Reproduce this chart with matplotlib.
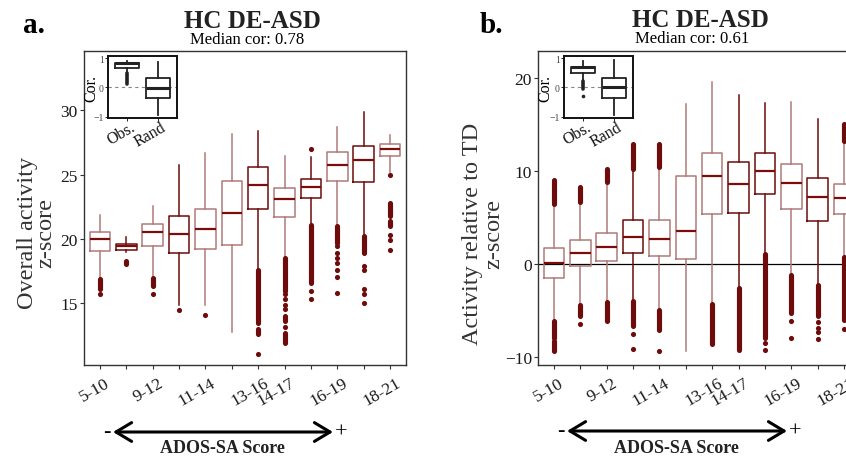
import numpy as np
import matplotlib.pyplot as plt
from matplotlib.transforms import ScaledTranslation

plt.rcParams['font.family'] = ['Liberation Serif', 'DejaVu Serif']

W, H = 846, 460
DARK = "#6e0b0b"
LIGHT = "#b07a7a"
MED_COL = "#7a0c0c"

# x categories (ADOS-SA score windows), only some are labelled
TICK_LABELS = ["5-10", "", "9-12", "", "11-14", "", "13-16", "14-17", "", "16-19", "", "18-21"]

# panel a: overall activity z-score
MED_A = [20.0, 19.43, 20.51, 20.39, 20.8, 22.04, 24.21, 23.07, 24.05, 25.76, 26.15, 27.0]
Q1_A = [19.04, 19.17, 19.48, 18.93, 19.18, 19.55, 22.33, 21.73, 23.18, 24.47, 24.39, 26.46]
Q3_A = [20.54, 19.63, 21.19, 21.8, 22.35, 24.47, 25.55, 23.95, 24.67, 26.77, 27.23, 27.36]
WLO_A = [16.95, 18.99, 16.97, 14.9, 14.84, 12.77, 17.62, 18.52, 21.1, 20.98, 20.2, 25.16]
WHI_A = [21.88, 20.15, 22.58, 25.78, 26.69, 28.16, 28.42, 26.46, 26.36, 28.68, 29.89, 28.08]
# dense outlier runs (low, high) and single outliers
RUNS_A = [[(16.12, 16.9)], [(18.08, 18.28)], [(16.33, 16.97)], [], [], [],
          [(13.49, 17.62), (12.58, 12.97)],
          [(15.94, 18.53), (13.6, 14.0), (11.9, 12.7)],
          [(16.59, 21.1)], [(19.69, 20.98)], [(18.91, 20.2)],
          [(21.75, 22.79), (20.98, 21.36)]]
DOTS_A = [[15.68], [], [15.68], [14.44], [14.05], [], [11.05],
          [15.68, 15.29, 14.9, 14.57, 13.18],
          [27.0, 15.94, 15.29],
          [19.43, 18.91, 18.53, 18.14, 17.62, 17.05, 15.81],
          [17.88, 17.57, 16.07, 15.68, 14.98],
          [24.98, 20.33, 19.95, 19.17]]

# panel b: activity relative to TD z-score
MED_B = [0.14, 1.21, 1.85, 2.91, 2.7, 3.55, 9.45, 8.6, 9.95, 8.7, 7.18, 7.07]
Q1_B = [-1.5, -0.25, 0.32, 1.14, 0.8, 0.53, 5.4, 5.47, 7.46, 5.86, 4.62, 5.4]
Q3_B = [1.74, 2.56, 3.34, 4.69, 4.69, 9.42, 11.94, 10.95, 11.87, 10.7, 9.24, 8.6]
WLO_B = [-6.15, -4.37, -4.1, -4.02, -4.9, -9.35, -4.3, -2.6, 1.05, -1.17, -2.24, 0.78]
WHI_B = [6.47, 6.64, 8.77, 10.2, 10.37, 17.2, 19.5, 18.09, 17.3, 17.38, 15.53, 13.2]
RUNS_B = [[(6.47, 8.96), (-7.92, -6.15), (-9.3, -8.28)],
          [(6.64, 8.24), (-5.6, -4.37)],
          [(8.77, 10.2), (-6.1, -4.1)],
          [(10.2, 12.9), (-6.7, -4.02)],
          [(10.37, 12.9), (-7.1, -4.9)],
          [],
          [(-8.63, -4.3)],
          [(-9.2, -2.6)],
          [(-7.92, 1.05)],
          [(-5.26, -1.17)],
          [(-5.62, -2.24)],
          [(13.2, 15.0), (-5.97, 0.78)]]
DOTS_B = [[], [-6.5], [], [-7.57, -9.1], [-9.35], [], [], [],
          [-8.46, -9.28], [-6.15, -8.0], [-6.2, -6.9, -7.3, -8.1], [-6.97]]

# inset: correlation, observed vs random
INSET_LABELS = ["Obs.", "Rand"]
INSET_A = dict(med=[0.83, -0.01], q1=[0.67, -0.35], q3=[0.83, 0.34],
               wlo=[0.5, -0.93], whi=[0.92, 0.89])
INSET_A_RUNS = [[(0.13, 0.5)], []]
INSET_A_DOTS = [[], []]
INSET_B = dict(med=[0.7, 0.02], q1=[0.5, -0.35], q3=[0.7, 0.33],
               wlo=[0.25, -0.93], whi=[0.92, 0.94])
INSET_B_RUNS = [[(-0.06, 0.23)], []]
INSET_B_DOTS = [[-0.29], []]

EDGE_DARK_A = [False, True, False, True, False, False, True, False, True, False, True, False]
EDGE_DARK_B = [False, False, False, True, False, False, False, True, True, False, True, False]


def rect(x0, y0, x1, y1):
    # pixel box -> figure fraction [left, bottom, width, height]
    return [x0 / W, 1 - y1 / H, (x1 - x0) / W, (y1 - y0) / H]


def fpt(x, y):
    return (x / W, 1 - y / H)


def shift_labels(ax, fig, dx, dy):
    off = ScaledTranslation(dx / 100, -dy / 100, fig.dpi_scale_trans)
    for lab in ax.get_xticklabels():
        lab.set_transform(lab.get_transform() + off)


def draw_boxes(ax, med, q1, q3, wlo, whi, runs, dots, dark, width, lw, mlw, ms, base=None):
    pos = np.arange(1, len(med) + 1)
    stats = [dict(med=m, q1=a, q3=b, whislo=lo, whishi=hi)
             for m, a, b, lo, hi in zip(med, q1, q3, wlo, whi)]
    art = ax.bxp(stats, positions=pos, widths=width, showfliers=False,
                 showcaps=False, manage_ticks=False)
    for i in range(len(med)):
        if base is None:
            col = DARK if dark[i] else LIGHT
            mcol = MED_COL
        else:
            col = mcol = base
        art['boxes'][i].set(color=col, linewidth=lw)
        art['whiskers'][2 * i].set(color=col, linewidth=lw)
        art['whiskers'][2 * i + 1].set(color=col, linewidth=lw)
        art['medians'][i].set(color=mcol, linewidth=mlw)
        fcol = DARK if base is None else base
        for lo, hi in runs[i]:
            ax.plot([pos[i], pos[i]], [lo, hi], color=fcol, lw=ms,
                    solid_capstyle='round', zorder=3)
        if dots[i]:
            ax.plot([pos[i]] * len(dots[i]), dots[i], 'o', color=fcol,
                    ms=ms, mec='none', zorder=3)
    return pos


def style_frame(ax, col, lw):
    for s in ax.spines.values():
        s.set_color(col)
        s.set_linewidth(lw)


fig = plt.figure(figsize=(W / 100, H / 100), dpi=100)

panels = [
    dict(rect=rect(84, 52, 406, 366), med=MED_A, q1=Q1_A, q3=Q3_A, wlo=WLO_A, whi=WHI_A,
         runs=RUNS_A, dots=DOTS_A, dark=EDGE_DARK_A, ylim=(10.2, 34.6), yticks=[15, 20, 25, 30],
         letter="a.", lx=23, title_x=252.5, title_y=28.3, med_x=246.7, med_y=44.3, cor="0.78",
         ylab=("Overall activity", 33.3, 232.5), zlab=(51.7, 233.3),
         inset=rect(108, 57.3, 177, 119.3), ins=INSET_A, ins_runs=INSET_A_RUNS, ins_dots=INSET_A_DOTS,
         cor_x=-0.12, arrow=(113, 333, 433), score_x=222.5, zero=False),
    dict(rect=rect(538, 52, 860, 366), med=MED_B, q1=Q1_B, q3=Q3_B, wlo=WLO_B, whi=WHI_B,
         runs=RUNS_B, dots=DOTS_B, dark=EDGE_DARK_B, ylim=(-10.85, 22.85), yticks=[-10, 0, 10, 20],
         letter="b.", lx=480, title_x=700, title_y=26.7, med_x=692.5, med_y=42.7, cor="0.61",
         ylab=("Activity relative to TD", 478.3, 234), zlab=(499.3, 234),
         inset=rect(564, 57.3, 633, 119.3), ins=INSET_B, ins_runs=INSET_B_RUNS, ins_dots=INSET_B_DOTS,
         cor_x=-0.15, arrow=(567, 787, 432), score_x=676, zero=True),
]

for p in panels:
    ax = fig.add_axes(p['rect'])
    if p['zero']:
        ax.axhline(0, color='black', lw=0.9, zorder=1)
    pos = draw_boxes(ax, p['med'], p['q1'], p['q3'], p['wlo'], p['whi'],
                     p['runs'], p['dots'], p['dark'], 0.78, 1.1, 1.6, 3.7)
    ax.set_xlim(0.4, 12.6)
    ax.set_ylim(*p['ylim'])
    ax.set_yticks(p['yticks'])
    ax.set_xticks(pos)
    ax.set_xticklabels(TICK_LABELS, rotation=30, ha='right', va='top',
                       rotation_mode='anchor')
    ax.tick_params(labelsize=12.5, length=3, width=0.8, color='#333333',
                   labelcolor='#1a1a1a', pad=1.5)
    shift_labels(ax, fig, 5, 3)
    style_frame(ax, '#333333', 1.0)

    # inset
    ai = fig.add_axes(p['inset'])
    ai.set_facecolor('white')
    ai.axhline(0, color='#888888', lw=0.8, ls=(0, (3, 3)), zorder=1)
    ins = p['ins']
    draw_boxes(ai, ins['med'], ins['q1'], ins['q3'], ins['wlo'], ins['whi'],
               p['ins_runs'], p['ins_dots'], None, 0.78, 1.3, 2.2, 2.6, base='#222222')
    ai.set_xlim(0.38, 2.62)
    ai.set_ylim(-1.06, 1.07)
    ai.set_yticks([-1, 0, 1])
    ai.set_xticks([1, 2])
    ai.set_xticklabels(INSET_LABELS, rotation=30, ha='right', va='top',
                       rotation_mode='anchor', fontsize=11.5)
    ai.tick_params(axis='y', labelsize=7, length=2, width=0.6, pad=1, labelcolor='#444444')
    ai.tick_params(axis='x', length=2, width=0.6, pad=1, labelcolor='#111111')
    shift_labels(ai, fig, 3, -4)
    ai.set_ylabel("Cor.", fontsize=11.5)
    ai.yaxis.set_label_coords(p['cor_x'], 0.5)
    style_frame(ai, '#111111', 1.4)

    # titles and letters
    fig.text(*fpt(p['lx'], 33), p['letter'], fontsize=21, fontweight='bold', va='baseline', ha='left')
    fig.text(*fpt(p['title_x'], p['title_y']), "HC DE-ASD", fontsize=18, fontweight='bold',
             ha='center', va='baseline', color='#222222')
    fig.text(*fpt(p['med_x'], p['med_y']), "Median cor: " + p['cor'], fontsize=12,
             ha='center', va='baseline')

    # y labels
    txt, bx, by = p['ylab']
    fig.text(*fpt(bx, by), txt, fontsize=17.5, rotation=90, rotation_mode='anchor',
             ha='center', va='baseline', color='#333333')
    zx, zy = p['zlab']
    fig.text(*fpt(zx, zy), "z-score", fontsize=17.5, rotation=90, rotation_mode='anchor',
             ha='center', va='baseline', color='#333333')

    # ADOS-SA arrow
    x0, x1, ya = p['arrow']
    fig.add_artist(plt.Annotation('', xy=fpt(x1, ya), xytext=fpt(x0, ya),
                                  xycoords='figure fraction', textcoords='figure fraction',
                                  arrowprops=dict(arrowstyle='<->, head_length=0.75, head_width=0.45',
                                                  mutation_scale=15, lw=2.2, color='black',
                                                  shrinkA=0, shrinkB=0)))
    fig.text(*fpt(x0 - 6, ya), "-", fontsize=16, ha='center', va='center')
    fig.text(*fpt(x1 + 8, ya), "+", fontsize=16, ha='center', va='center')
    fig.text(*fpt(p['score_x'], 453.5), "ADOS-SA Score", fontsize=13, fontweight='bold',
             ha='center', va='baseline', color='#222222')

fig.savefig("out.png", dpi=100)
